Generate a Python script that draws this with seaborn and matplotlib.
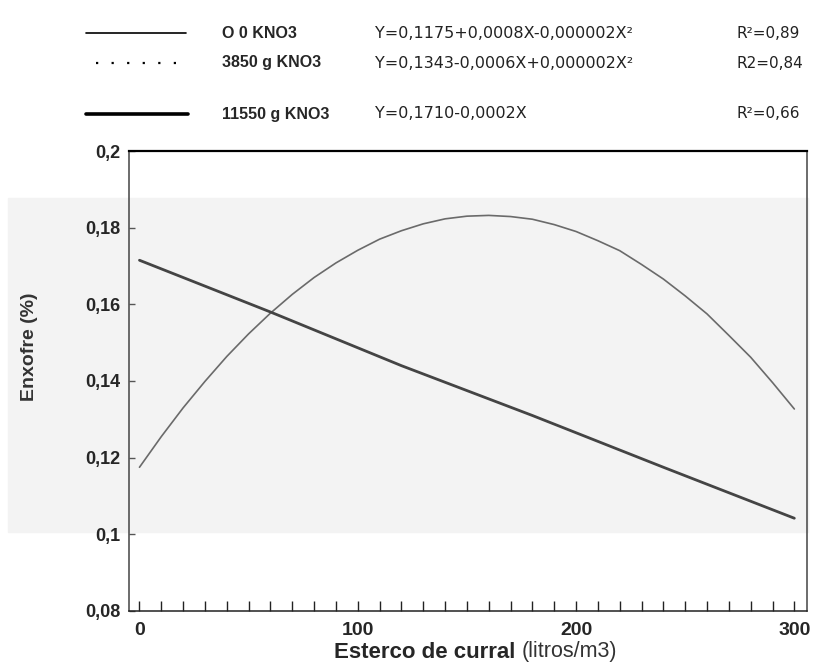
import numpy as np
import pandas as pd
import matplotlib
matplotlib.use("Agg")
import matplotlib.pyplot as plt
import seaborn as sns
from matplotlib.lines import Line2D
from matplotlib.patches import Rectangle
from matplotlib.ticker import MultipleLocator

# dados
x_0kno3 = [0, 10, 20, 30, 40, 50, 60, 70, 80, 90, 100, 110, 120, 130, 140, 150,
           160, 170, 180, 190, 200, 210, 220, 230, 240, 250, 260, 270, 280, 290, 300]
y_0kno3 = [0.1175, 0.1255, 0.1330, 0.1399, 0.1464, 0.1523, 0.1577, 0.1626, 0.1670,
           0.1708, 0.1741, 0.1770, 0.1792, 0.1810, 0.1823, 0.1830, 0.1832, 0.1829,
           0.1822, 0.1808, 0.1790, 0.1766, 0.1740, 0.1704, 0.1666, 0.1622, 0.1575,
           0.1519, 0.1462, 0.1396, 0.1327]
x_11550 = [0, 60, 120, 180, 240, 300]
y_11550 = [0.1715, 0.1580, 0.1440, 0.1310, 0.1175, 0.1042]

yticks = [0.08, 0.10, 0.12, 0.14, 0.16, 0.18, 0.20]
ytick_labels = ["0,08", "0,1", "0,12", "0,14", "0,16", "0,18", "0,2"]
xticks = [0, 100, 200, 300]
xtick_labels = ["0", "100", "200", "300"]

leg_names = ["O 0 KNO3", "3850 g KNO3", "11550 g KNO3"]
leg_eqs = ["Y=0,1175+0,0008X-0,000002X²", "Y=0,1343-0,0006X+0,000002X²", "Y=0,1710-0,0002X"]
leg_r2 = ["R²=0,89", "R2=0,84", "R²=0,66"]

sns.set_style("white")
plt.rcParams['font.family'] = ['Liberation Sans', 'DejaVu Sans']

W, H = 816, 664
fig = plt.figure(figsize=(W / 100, H / 100), dpi=100)

def fx(px):
    return px / W

def fy(py):
    return 1 - py / H

# faixa cinza do scan
fig.patches.append(Rectangle((fx(8), fy(532)), fx(808) - fx(8), fy(198) - fy(532),
                             transform=fig.transFigure, color="#f3f3f3", zorder=-5))

ax = fig.add_axes([fx(129), fy(611), fx(807) - fx(129), fy(151) - fy(611)])
ax.set_zorder(2)
ax.patch.set_alpha(0)

df_a = pd.DataFrame({"x": x_0kno3, "y": y_0kno3})
df_b = pd.DataFrame({"x": x_11550, "y": y_11550})
sns.lineplot(data=df_a, x="x", y="y", ax=ax, color="#6a6a6a", lw=1.2)
sns.lineplot(data=df_b, x="x", y="y", ax=ax, color="#444444", lw=2.0)

ax.set_xlim(-4.8, 305.8)
ax.set_ylim(0.08, 0.20)
ax.set_yticks(yticks)
ax.set_yticklabels(ytick_labels, fontsize=13, fontweight="bold")
ax.set_xticks(xticks)
ax.set_xticklabels(xtick_labels, fontsize=14, fontweight="bold")
ax.xaxis.set_minor_locator(MultipleLocator(10))
ax.tick_params(left=True, bottom=True)
ax.tick_params(axis="x", which="minor", bottom=True)
ax.tick_params(axis="y", direction="in", length=4, width=1, color="#555555", pad=6)
ax.tick_params(axis="x", which="both", direction="in", length=7, width=1.0, color="#222222", pad=8)

for side, s in ax.spines.items():
    s.set_visible(True)
    s.set_color("#444444")
    s.set_linewidth(1.1)
ax.spines["top"].set_color("black")
ax.spines["top"].set_linewidth(1.6)
ax.spines["bottom"].set_color("#222222")

ax.set_xlabel("")
ax.set_ylabel("")
fig.text(fx(30), fy(347), "Enxofre (%)", fontsize=14, fontweight="bold", color="#333333",
         rotation=90, ha="center", va="center")
fig.text(fx(522), fy(652), "Esterco de curral ", fontsize=16, fontweight="bold",
         ha="right", va="center")
fig.text(fx(522), fy(652), "(litros/m3)", fontsize=15.5, color="#333333",
         ha="left", va="center")

# legenda do topo
rows_y = [33, 63, 114]
fig.add_artist(Line2D([fx(86), fx(186)], [fy(rows_y[0])] * 2, color="black", lw=1.2,
                      transform=fig.transFigure))
fig.add_artist(Line2D([fx(96), fx(180)], [fy(rows_y[1])] * 2, color="black", lw=1.6,
                      ls=(0, (1, 6)), transform=fig.transFigure))
fig.add_artist(Line2D([fx(86), fx(188)], [fy(rows_y[2])] * 2, color="black", lw=2.6,
                      transform=fig.transFigure))
for ry, name, eq, r2 in zip(rows_y, leg_names, leg_eqs, leg_r2):
    fig.text(fx(222), fy(ry), name, fontsize=11.5, fontweight="bold", ha="left", va="center")
    fig.text(fx(375), fy(ry), eq, fontsize=11.5, color="#222222", ha="left", va="center",
             family=["DejaVu Sans"])
    fig.text(fx(736), fy(ry), r2, fontsize=11, color="#222222", ha="left", va="center",
             family=["DejaVu Sans"])

fig.savefig("out.png", dpi=100)
